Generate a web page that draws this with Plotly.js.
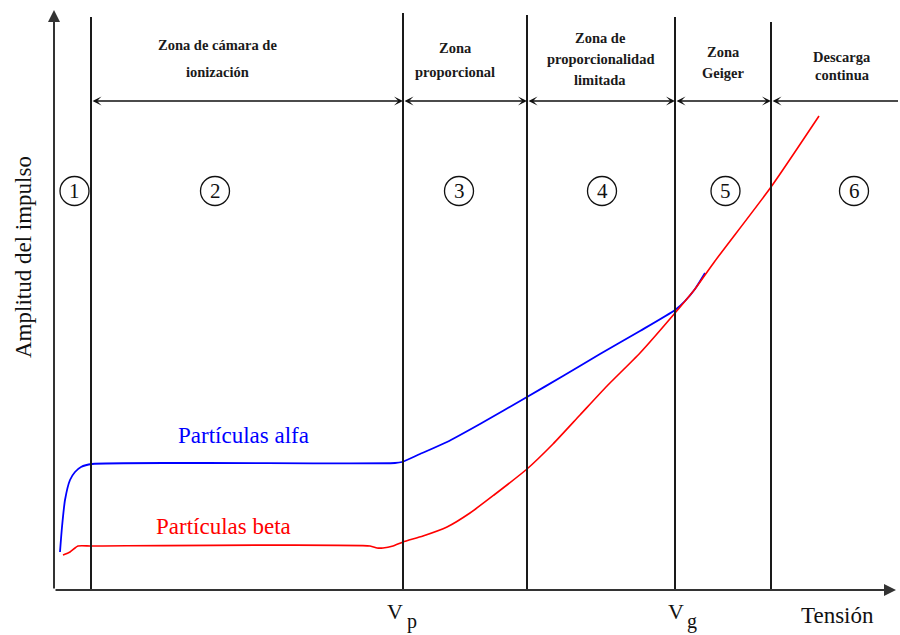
<!DOCTYPE html>
<html>
<head>
<meta charset="utf-8">
<script src="https://cdn.plot.ly/plotly-3.0.1.min.js"></script>
<style>html,body{margin:0;padding:0;background:#fff;}#chart{width:900px;height:635px;}</style>
</head>
<body>
<div id="chart"></div>
<script>
// Arbitrary units (voltage on x, pulse amplitude on y)
const alfaX = [6, 8, 11, 16, 21, 27, 38, 146, 341, 348, 366, 393, 426, 473, 509, 546, 586, 621, 631, 641, 651];
const alfaY = [38, 63, 90, 110, 118, 123, 126, 127, 127, 128, 136, 148, 166, 193, 214, 236, 259, 280, 289, 301, 317];
const betaX = [9, 16, 24, 38, 316, 323, 329, 339, 349, 369, 393, 416, 440, 473, 499, 526, 553, 586, 621, 641, 661, 717, 765];
const betaY = [35, 38, 44, 44, 44, 42, 42, 44, 48, 54, 63, 77, 95, 121, 146, 175, 204, 237, 277, 301, 329, 403, 474];
// zone boundaries (x) and the heights their lines reach
const boundaryX = [37, 349, 473, 621, 717];
const boundaryTop = [573, 577, 575, 573, 568];
const zoneTitles = [["Zona de cámara de", "ionización"], ["Zona", "proporcional"], ["Zona de", "proporcionalidad", "limitada"], ["Zona", "Geiger"], ["Descarga", "continua"]];
const zoneNumbers = ["1", "2", "3", "4", "5", "6"];
const seriesNames = ["Partículas alfa", "Partículas beta"];
const xTitle = "Tensión";
const yTitle = "Amplitud del impulso";

const XMAX = 844, YMAX = 580;
const serif = "Liberation Serif, Times New Roman, serif";

const traces = [
  {x: alfaX, y: alfaY, mode: "lines", line: {color: "#0000ff", width: 1.8, shape: "spline", smoothing: 0.6}, hoverinfo: "skip"},
  {x: betaX, y: betaY, mode: "lines", line: {color: "#ff0000", width: 1.6, shape: "spline", smoothing: 0.6}, hoverinfo: "skip"}
];

const shapes = [];
boundaryX.forEach((bx, i) => {
  shapes.push({type: "line", xref: "x", yref: "y", x0: bx, x1: bx, y0: 0, y1: boundaryTop[i], line: {color: "#1a1a1a", width: 2}});
});
// circles around zone numbers
const numX = [20.5, 161, 405, 548, 671.5, 800];
const numY = 399, R = 14.5;
numX.forEach(cx => {
  shapes.push({type: "circle", xref: "x", yref: "y", x0: cx - R, x1: cx + R, y0: numY - R, y1: numY + R, line: {color: "#111", width: 1.3}});
});

const ann = [];
// axes with arrow tips
ann.push({x: 0, y: YMAX, ax: 0, ay: 0, axref: "x", ayref: "y", xref: "x", yref: "y", text: "", showarrow: true, arrowhead: 2, arrowsize: 1.2, arrowwidth: 2, arrowcolor: "#333"});
ann.push({x: XMAX - 2, y: 0, ax: 0, ay: 0, axref: "x", ayref: "y", xref: "x", yref: "y", text: "", showarrow: true, arrowhead: 2, arrowsize: 1.2, arrowwidth: 2, arrowcolor: "#333"});
// zone span arrows
const arrowY = 489;
const spans = boundaryX.concat([XMAX]);
for (let i = 0; i < spans.length - 1; i++) {
  ann.push({x: spans[i + 1], y: arrowY, ax: spans[i], ay: arrowY, axref: "x", ayref: "y", xref: "x", yref: "y", text: "", showarrow: true,
    arrowhead: 3, startarrowhead: 3, arrowside: i === spans.length - 2 ? "start" : "end+start", arrowsize: 1, startarrowsize: 1, arrowwidth: 1.5, arrowcolor: "#111"});
}
// zone titles
const titleX = [163, 401, 546, 669, 788];
const titleLinesY = [[545, 518], [542, 518], [552, 531, 510], [538, 517], [533, 515]];
zoneTitles.forEach((lines, i) => {
  lines.forEach((t, j) => {
    ann.push({x: titleX[i], y: titleLinesY[i][j], xref: "x", yref: "y", text: t, showarrow: false,
      font: {family: serif, size: 14.5, color: "#1a1a1a", weight: "bold"}, xanchor: "center", yanchor: "middle"});
  });
});
// zone numbers
zoneNumbers.forEach((n, i) => {
  ann.push({x: numX[i], y: numY, xref: "x", yref: "y", text: n, showarrow: false, font: {family: serif, size: 21, color: "#111"}, xanchor: "center", yanchor: "middle"});
});
// series labels
ann.push({x: 189, y: 155, xref: "x", yref: "y", text: seriesNames[0], showarrow: false, font: {family: serif, size: 23, color: "#0000ff"}, xanchor: "center", yanchor: "middle"});
ann.push({x: 169, y: 64, xref: "x", yref: "y", text: seriesNames[1], showarrow: false, font: {family: serif, size: 23, color: "#ff0000"}, xanchor: "center", yanchor: "middle"});
// V_p, V_g (below the plot: y in paper units)
const py = v => v / YMAX;
ann.push({x: boundaryX[1] - 8, y: py(-21), xref: "x", yref: "paper", text: "V", showarrow: false, font: {family: serif, size: 22, color: "#111"}, xanchor: "center", yanchor: "middle"});
ann.push({x: boundaryX[1] + 9, y: py(-31), xref: "x", yref: "paper", text: "p", showarrow: false, font: {family: serif, size: 20, color: "#111"}, xanchor: "center", yanchor: "middle"});
ann.push({x: boundaryX[3] + 1, y: py(-21), xref: "x", yref: "paper", text: "V", showarrow: false, font: {family: serif, size: 22, color: "#111"}, xanchor: "center", yanchor: "middle"});
ann.push({x: boundaryX[3] + 17, y: py(-31), xref: "x", yref: "paper", text: "g", showarrow: false, font: {family: serif, size: 20, color: "#111"}, xanchor: "center", yanchor: "middle"});
// axis titles
ann.push({x: 783, y: py(-25), xref: "x", yref: "paper", text: xTitle, showarrow: false, font: {family: serif, size: 23, color: "#111"}, xanchor: "center", yanchor: "middle"});
ann.push({x: -31 / XMAX, y: 333, xref: "paper", yref: "y", text: yTitle, textangle: -90, showarrow: false, font: {family: serif, size: 23, color: "#111"}, xanchor: "center", yanchor: "middle"});

const layout = {
  width: 900, height: 635,
  margin: {l: 54, r: 2, t: 10, b: 45, pad: 0},
  paper_bgcolor: "#fff", plot_bgcolor: "#fff",
  showlegend: false,
  xaxis: {range: [0, XMAX], showgrid: false, zeroline: false, showticklabels: false, ticks: "", showline: false, fixedrange: true},
  yaxis: {range: [0, YMAX], showgrid: false, zeroline: false, showticklabels: false, ticks: "", showline: false, fixedrange: true},
  shapes: shapes,
  annotations: ann
};
Plotly.newPlot("chart", traces, layout, {staticPlot: true, displayModeBar: false});
</script>
</body>
</html>
